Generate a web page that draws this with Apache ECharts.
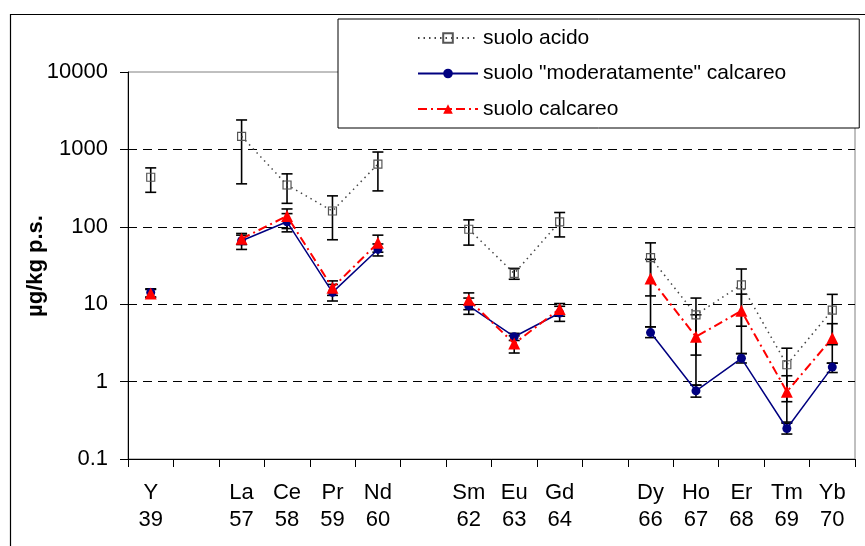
<!DOCTYPE html>
<html><head><meta charset="utf-8">
<script src="https://cdn.jsdelivr.net/npm/echarts@6/dist/echarts.min.js"></script>
<style>html,body{margin:0;padding:0;background:#fff}#c{width:865px;height:546px}</style>
</head><body><div id="c"></div>
<script>
// Categories (blank slots separate the element groups)
const elements = ['Y', ' ', 'La', 'Ce', 'Pr', 'Nd', '  ', 'Sm', 'Eu', 'Gd', '   ', 'Dy', 'Ho', 'Er', 'Tm', 'Yb'];
const atomicNumbers = ['39', '', '57', '58', '59', '60', '', '62', '63', '64', '', '66', '67', '68', '69', '70'];
const seriesNames = ['suolo acido', 'suolo "moderatamente" calcareo', 'suolo calcareo'];

// Mean values (µg/kg p.s.)
const acido = [437, null, 1475, 347, 160, 646, null, 93, 25, 116, null, 40, 7.3, 17.8, 1.65, 8.4];
const moderato = [14.2, null, 66, 116, 14.2, 51, null, 9.5, 3.8, 7.7, null, 4.3, 0.76, 2.0, 0.248, 1.54];
const calcareo = [13.7, null, 70, 138, 16.3, 62, null, 11.4, 3.1, 8.7, null, 21.5, 3.8, 8.2, 0.74, 3.66];

// Error bar extents
const acidoLow = [279, null, 359, 201, 68, 291, null, 58, 21, 74, null, 12.8, 2.2, 5.2, 0.55, 3.0];
const acidoHigh = [577, null, 2400, 483, 251, 925, null, 123, 29, 153, null, 62, 12, 28.5, 2.7, 13.4];
const moderatoLow = [12.4, null, 51, 86, 11, 42, null, 7.4, 3.4, 6.0, null, 3.7, 0.63, 1.74, 0.21, 1.31];
const moderatoHigh = [15.8, null, 78, 148, 18, 60, null, 12, 4.2, 9.4, null, 5.1, 0.9, 2.3, 0.29, 1.73];
const calcareoLow = [12.2, null, 59, 95, 13, 47, null, 8.5, 2.34, 7.0, null, 5.1, 0.9, 2.3, 0.3, 1.73];
const calcareoHigh = [15.5, null, 82, 170, 20, 78, null, 14, 3.9, 10.2, null, 38, 7.3, 13.5, 1.19, 5.6];

const gridValues = [1000, 100, 10, 1];
const yAxisName = 'µg/kg p.s.';

const FONT = '"Liberation Sans", Arial, sans-serif';

function errData(lo, hi) {
  const out = [];
  lo.forEach((v, i) => { if (v != null && hi[i] != null) out.push([i, v, hi[i]]); });
  return out;
}
function errRender(params, api) {
  const i = api.value(0);
  const p1 = api.coord([i, api.value(1)]);
  const p2 = api.coord([i, api.value(2)]);
  const hw = 5.5;
  const st = { stroke: '#000', lineWidth: 1.6 };
  return { type: 'group', children: [
    { type: 'line', shape: { x1: p1[0], y1: p1[1], x2: p2[0], y2: p2[1] }, style: st },
    { type: 'line', shape: { x1: p1[0] - hw, y1: p1[1], x2: p1[0] + hw, y2: p1[1] }, style: st },
    { type: 'line', shape: { x1: p2[0] - hw, y1: p2[1], x2: p2[0] + hw, y2: p2[1] }, style: st }
  ]};
}

const chart = echarts.init(document.getElementById('c'), null, { renderer: 'canvas' });
chart.setOption({
  animation: false,
  backgroundColor: '#fff',
  textStyle: { fontFamily: FONT },
  graphic: [
    { type: 'rect', left: 8, top: 12, shape: { width: 870, height: 550 },
      style: { fill: 'none', stroke: '#000', lineWidth: 1.2 }, silent: true, z: 0 },
    { type: 'text', x: 36, y: 266, rotation: Math.PI / 2, silent: true, z: 10,
      style: { text: yAxisName, fill: '#000', font: 'bold 22px ' + FONT, align: 'center', verticalAlign: 'middle' } }
  ],
  grid: { left: 128, right: 10, top: 72, bottom: 87, show: true, borderColor: '#808080', borderWidth: 1, backgroundColor: 'transparent' },
  legend: {
    orient: 'vertical', left: 338, top: 19,
    data: seriesNames,
    itemWidth: 60, itemHeight: 12, itemGap: 14.5,
    padding: [8.5, 73, 8.5, 79],
    borderColor: '#000', borderWidth: 1, backgroundColor: '#fff',
    textStyle: { fontFamily: FONT, fontSize: 21, color: '#000', lineHeight: 21 },
    z: 20
  },
  xAxis: {
    type: 'category', data: elements, boundaryGap: true,
    axisLine: { lineStyle: { color: '#000', width: 1 } },
    axisTick: { show: true, interval: 0, length: 8, lineStyle: { color: '#000' } },
    axisLabel: {
      interval: 0, margin: 20, color: '#000', fontFamily: FONT, fontSize: 22, lineHeight: 27.5,
      formatter: (v, i) => elements[i].trim() ? elements[i] + '\n' + atomicNumbers[i] : ''
    },
    splitLine: { show: false }
  },
  yAxis: {
    type: 'log', logBase: 10, min: 0.1, max: 10000,
    axisLine: { show: true, lineStyle: { color: '#000', width: 1 } },
    axisTick: { show: true, length: 8, lineStyle: { color: '#000' } },
    axisLabel: { margin: 20, color: '#000', fontFamily: FONT, fontSize: 22,
      formatter: v => String(+v.toPrecision(6)) },
    splitLine: { show: false },
    minorTick: { show: false }
  },
  series: [
    { type: 'custom', name: 'err-acido', renderItem: errRender, data: errData(acidoLow, acidoHigh), z: 2, silent: true },
    { type: 'custom', name: 'err-mod', renderItem: errRender, data: errData(moderatoLow, moderatoHigh), z: 2, silent: true },
    { type: 'custom', name: 'err-calc', renderItem: errRender, data: errData(calcareoLow, calcareoHigh), z: 2, silent: true },
    {
      type: 'line', name: seriesNames[0], data: acido, connectNulls: false,
      symbol: 'rect', symbolSize: 8, showAllSymbol: true,
      itemStyle: { color: 'rgba(255,255,255,0)', borderColor: '#555', borderWidth: 1.2 },
      lineStyle: { color: '#444', width: 1.5, type: [1.5, 4] },
      z: 3,
      markLine: { silent: true, symbol: 'none', label: { show: false },
        lineStyle: { color: '#000', type: [9, 6], width: 1 },
        data: gridValues.map(v => ({ yAxis: v })) , z: 1 }
    },
    {
      type: 'line', name: seriesNames[1], data: moderato, connectNulls: false,
      symbol: 'circle', symbolSize: 9, showAllSymbol: true,
      itemStyle: { color: '#000080' },
      lineStyle: { color: '#000080', width: 1.5, type: 'solid' },
      z: 4
    },
    {
      type: 'line', name: seriesNames[2], data: calcareo, connectNulls: false,
      symbol: 'triangle', symbolSize: 12, showAllSymbol: true,
      itemStyle: { color: '#ff0000' },
      lineStyle: { color: '#ff0000', width: 2, type: [9, 4, 2, 4] },
      z: 5
    }
  ]
});
</script>
</body></html>
